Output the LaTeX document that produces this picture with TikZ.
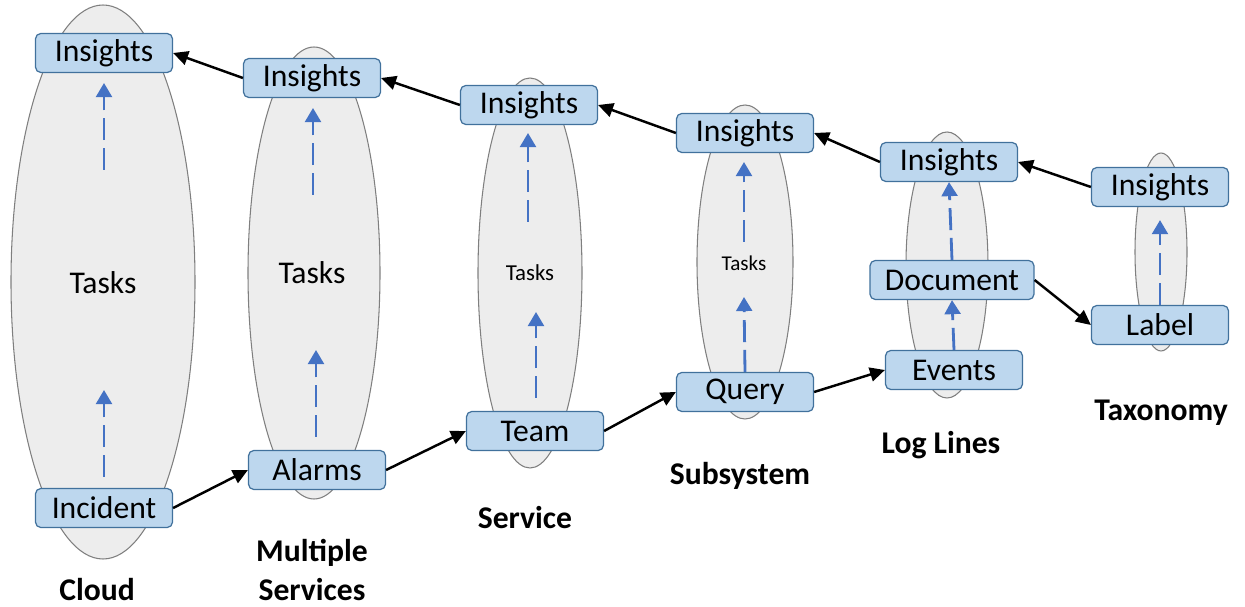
\documentclass[tikz,border=0pt]{standalone}
\usepackage{fontspec}
\setmainfont{Carlito}
\usepackage{tikz}
\usetikzlibrary{arrows.meta}
\definecolor{boxfill}{HTML}{BDD7EE}
\definecolor{boxline}{HTML}{41719C}
\definecolor{podfill}{HTML}{EDEDED}
\definecolor{podline}{HTML}{7F7F7F}
\definecolor{upblue}{HTML}{4472C4}
\tikzset{
  box/.style={draw=boxline, fill=boxfill, rounded corners=3pt, line width=0.7pt,
    minimum width=2.74cm, minimum height=0.78cm, inner sep=0pt,
    font=\fontsize{18}{21}\selectfont},
  pod/.style={draw=podline, fill=podfill, line width=0.6pt},
  flow/.style={-{Triangle[length=8.5pt,width=8pt]}, line width=1.4pt},
  upflow/.style={-{Triangle[length=8pt,width=9pt]}, draw=upblue, line width=1.6pt,
    dash pattern=on 12.5pt off 4.5pt},
  tier/.style={font=\bfseries\fontsize{18}{22}\selectfont, align=center},
}

\begin{document}
\begin{tikzpicture}[x=0.02cm,y=-0.02cm]
\useasboundingbox (0,0) rectangle (1245,607);
\draw[pod] (103,282) ellipse [x radius=92, y radius=277];
\draw[pod] (314,273) ellipse [x radius=66, y radius=226];
\draw[pod] (530,273) ellipse [x radius=52, y radius=195];
\draw[pod] (745,262) ellipse [x radius=48, y radius=157];
\draw[pod] (947,265) ellipse [x radius=41, y radius=133];
\draw[pod] (1161,252) ellipse [x radius=26, y radius=99];

\node[font=\fontsize{18}{21}\selectfont] (cloudTasks) at (103,283) {Tasks};
\node[font=\fontsize{18}{21}\selectfont] (msTasks) at (312,273) {Tasks};
\node[font=\fontsize{13}{15}\selectfont] (svcTasks) at (530,273) {Tasks};
\node[font=\fontsize{12}{14}\selectfont] (subTasks) at (744,263) {Tasks};

\node[box] (cloudIns) at (104,53) {Insights};
\node[box] (incident) at (104,508) {Incident};
\node[box] (msIns) at (312,78) {Insights};
\node[box] (alarms) at (317,470) {Alarms};
\node[box] (svcIns) at (529,105) {Insights};
\node[box] (team) at (535,431) {Team};
\node[box] (subIns) at (745,133) {Insights};
\node[box] (query) at (745,392) {Query};
\node[box] (logIns) at (949,162) {Insights};
\node[box, minimum width=3.28cm] (document) at (952,280) {Document};
\node[box] (events) at (954,370) {Events};
\node[box] (taxIns) at (1160,187) {Insights};
\node[box] (label) at (1160,325) {Label};

\node[tier] (cloudLbl) at (97,590) {Cloud};
\node[tier] (msLbl) at (312,570) {Multiple\\Services};
\node[tier] (svcLbl) at (525,518) {Service};
\node[tier] (subLbl) at (740,476) {Subsystem};
\node[tier] (logLbl) at (941,445) {Log Lines};
\node[tier] (taxLbl) at (1161,413) {Taxonomy};

\coordinate (cloudLoA) at (104,477); \coordinate (cloudLoB) at (104,390);
\coordinate (cloudHiA) at (104,170); \coordinate (cloudHiB) at (104,83);
\coordinate (msLoA) at (316,437); \coordinate (msLoB) at (316,350);
\coordinate (msHiA) at (313,195); \coordinate (msHiB) at (313,108);
\coordinate (svcLoA) at (536,398); \coordinate (svcLoB) at (536,312);
\coordinate (svcHiA) at (528,222); \coordinate (svcHiB) at (528,133);
\coordinate (subLoB) at (744,297);
\coordinate (subHiA) at (744,242); \coordinate (subHiB) at (744,162);

\draw[upflow] (cloudLoA) -- (cloudLoB);
\draw[upflow] (cloudHiA) -- (cloudHiB);
\draw[upflow] (msLoA) -- (msLoB);
\draw[upflow] (msHiA) -- (msHiB);
\draw[upflow] (svcLoA) -- (svcLoB);
\draw[upflow] (svcHiA) -- (svcHiB);
\draw[upflow] (query.north) -- (subLoB);
\draw[upflow] (subHiA) -- (subHiB);
\draw[upflow] (events.north) -- (document.south);
\draw[upflow] (document.north) -- (logIns.south);
\draw[upflow, shorten >=0.26cm] (label.north) -- (taxIns.south);

\draw[flow] (msIns.west) -- (cloudIns.east);
\draw[flow] (svcIns.west) -- (msIns.east);
\draw[flow] (subIns.west) -- (svcIns.east);
\draw[flow] (logIns.west) -- (subIns.east);
\draw[flow] (taxIns.west) -- (logIns.east);
\draw[flow] (incident.east) -- (alarms.west);
\draw[flow] (alarms.east) -- (team.west);
\draw[flow] (team.east) -- (query.west);
\draw[flow] (query.east) -- (events.west);
\draw[flow] (document.east) -- (label.west);
\end{tikzpicture}
\end{document}
